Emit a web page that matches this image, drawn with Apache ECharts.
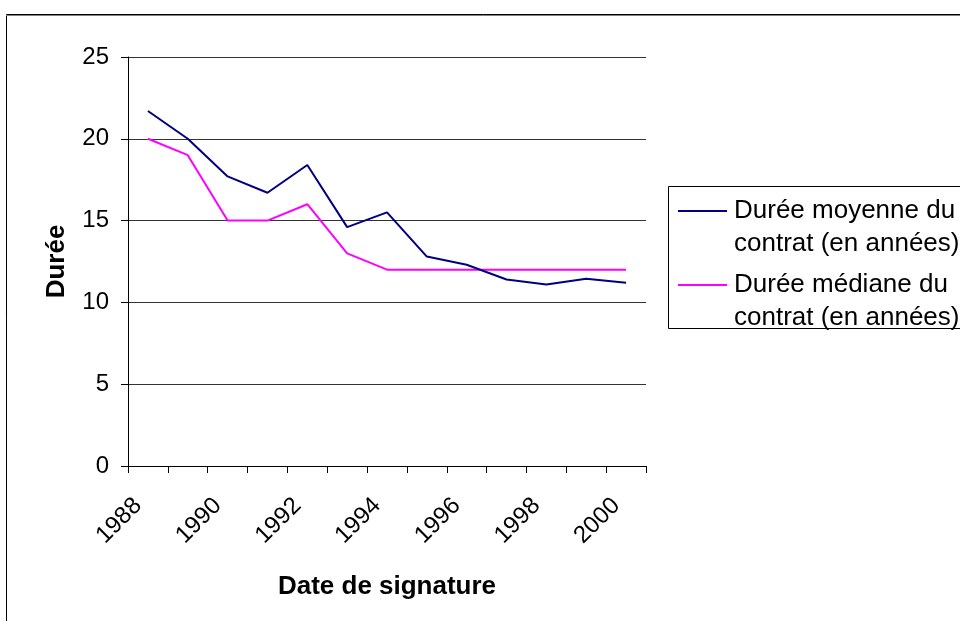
<!DOCTYPE html>
<html>
<head>
<meta charset="utf-8">
<script src="https://cdn.jsdelivr.net/npm/echarts@6/dist/echarts.min.js"></script>
<style>
  html, body { margin: 0; padding: 0; background: #fff; }
  #chart { width: 960px; height: 621px; }
</style>
</head>
<body>
<div id="chart"></div>
<script>
// Years of contract signature
const years = ['1988', '1989', '1990', '1991', '1992', '1993', '1994',
               '1995', '1996', '1997', '1998', '1999', '2000'];
// Average contract length (years)
const dureeMoyenne = [21.7, 20.0, 17.7, 16.7, 18.4, 14.6, 15.5,
                      12.8, 12.3, 11.4, 11.1, 11.45, 11.2];
// Median contract length (years)
const dureeMediane = [20, 19, 15, 15, 16, 13, 12,
                      12, 12, 12, 12, 12, 12];
const yTicks = [0, 5, 10, 15, 20, 25];

const seriesNames = ['Durée moyenne du\ncontrat (en années)',
                     'Durée médiane du\ncontrat (en années)'];
const seriesColors = ['#000080', '#FF00FF'];

const FONT = '"Liberation Sans", Arial, sans-serif';

const chart = echarts.init(document.getElementById('chart'), null, { renderer: 'canvas' });

// Legend drawn as a boxed block on the right; the box runs past the canvas edge
const legendGraphics = [
  { type: 'rect', shape: { x: 668.5, y: 186.5, width: 400, height: 142 },
    style: { fill: '#fff', stroke: '#000', lineWidth: 1 }, z: 10 }
];
[211, 285].forEach(function (y, i) {
  legendGraphics.push({
    type: 'line', shape: { x1: 678, y1: y, x2: 727, y2: y },
    style: { stroke: seriesColors[i], lineWidth: 2 }, z: 11
  });
  legendGraphics.push({
    type: 'text', x: 734, y: y - 16.5,
    style: { text: seriesNames[i], font: '26px ' + FONT, fill: '#000',
             lineHeight: 33, verticalAlign: 'top' }, z: 11
  });
});

chart.setOption({
  animation: false,
  backgroundColor: '#fff',
  grid: { left: 128, right: 314, top: 57, bottom: 155 },
  xAxis: {
    type: 'category',
    data: years,
    boundaryGap: true,
    name: 'Date de signature',
    nameLocation: 'middle',
    nameGap: 108,
    nameTextStyle: { fontFamily: FONT, fontSize: 26, fontWeight: 'bold', color: '#000' },
    axisLine: { lineStyle: { color: '#000', width: 1 } },
    axisTick: { show: true, interval: 0, length: 7, inside: false, lineStyle: { color: '#000' } },
    axisLabel: {
      interval: 1, rotate: 45, margin: 26, padding: [0, 14, 0, 0],
      fontFamily: FONT, fontSize: 24, color: '#000'
    },
    splitLine: { show: false }
  },
  yAxis: {
    type: 'value',
    min: yTicks[0], max: yTicks[yTicks.length - 1], interval: 5,
    name: 'Durée',
    nameLocation: 'middle',
    nameGap: 58,
    nameRotate: 90,
    nameTextStyle: { fontFamily: FONT, fontSize: 26, fontWeight: 'bold', color: '#000' },
    axisLine: { show: true, lineStyle: { color: '#000', width: 1 } },
    axisTick: { show: true, length: 7, lineStyle: { color: '#000' } },
    axisLabel: { margin: 19, fontFamily: FONT, fontSize: 24, color: '#000' },
    splitLine: { show: true, lineStyle: { color: '#333', width: 1 } }
  },
  series: [
    {
      name: seriesNames[0], type: 'line', data: dureeMoyenne,
      symbol: 'none', lineStyle: { color: seriesColors[0], width: 2 },
      itemStyle: { color: seriesColors[0] }, z: 3
    },
    {
      name: seriesNames[1], type: 'line', data: dureeMediane,
      symbol: 'none', lineStyle: { color: seriesColors[1], width: 2 },
      itemStyle: { color: seriesColors[1] }, z: 2
    }
  ],
  graphic: [
    // outer chart frame
    { type: 'rect', shape: { x: 6.5, y: 14.5, width: 1000, height: 700 },
      style: { fill: null, stroke: '#000', lineWidth: 1 }, silent: true },
    { type: 'line', shape: { x1: 6, y1: 15.5, x2: 960, y2: 15.5 },
      style: { stroke: '#808080', lineWidth: 1 }, silent: true }
  ].concat(legendGraphics)
});
</script>
</body>
</html>
